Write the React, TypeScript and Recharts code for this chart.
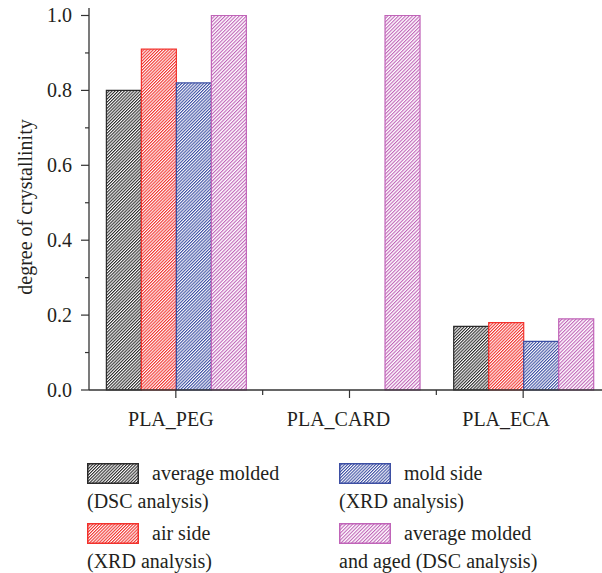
import React from 'react'
import { BarChart, Bar, XAxis, YAxis, Label } from 'recharts'

const categories = ['PLA_PEG', 'PLA_CARD', 'PLA_ECA']
const avgMolded = [0.8, null, 0.17]
const airSide = [0.91, null, 0.18]
const moldSide = [0.82, null, 0.13]
const avgAged = [1.0, 1.0, 0.19]
const yTicks = [0, 0.1, 0.2, 0.3, 0.4, 0.5, 0.6, 0.7, 0.8, 0.9, 1.0]

const series = [
  { key: 'avgMolded', values: avgMolded, color: '#2b2b2b', gap: 2.2, label: ['average molded', '(DSC analysis)'] },
  { key: 'airSide', values: airSide, color: '#f2322d', gap: 2.2, label: ['air side', '(XRD analysis)'] },
  { key: 'moldSide', values: moldSide, color: '#3d4fa3', gap: 2.2, label: ['mold side', '(XRD analysis)'] },
  { key: 'avgAged', values: avgAged, color: '#c064b8', gap: 2.5, label: ['average molded', 'and aged (DSC analysis)'] },
]

const data = categories.map((name, i) => {
  const row: Record<string, any> = { name }
  series.forEach(s => { row[s.key] = s.values[i] })
  return row
})

const FONT = '"Liberation Serif", "DejaVu Serif", serif'
const TEXT = '#231f20'
const AXIS = '#333'

const CHART_W = 620
const CHART_H = 573
const Y_AXIS_W = 89
const X_AXIS_H = 183
const MARGIN = { top: 8, right: 10, left: 0, bottom: 0 }
const AXIS_Y = CHART_H - X_AXIS_H
const BAND = (CHART_W - MARGIN.right - Y_AXIS_W) / categories.length

function Hatch({ id, color, gap }: { id: string; color: string; gap: number }) {
  return (
    <pattern id={id} patternUnits="userSpaceOnUse" width={gap} height="10" patternTransform="rotate(45)">
      <rect x="0" y="0" width={gap} height="10" fill="#fff" />
      <rect x="0" y="0" width="1.1" height="10" fill={color} />
    </pattern>
  )
}

function YTick(props: any) {
  const { y, payload, index } = props
  const major = index % 2 === 0
  return (
    <g>
      <line x1={Y_AXIS_W - (major ? 8 : 4)} x2={Y_AXIS_W} y1={y} y2={y} stroke={AXIS} strokeWidth={1.2} />
      {major && (
        <text x={Y_AXIS_W - 17} y={y} textAnchor="end" dominantBaseline="central"
          fontFamily={FONT} fontSize={20} fill={TEXT}>
          {Number(payload.value).toFixed(1)}
        </text>
      )}
    </g>
  )
}

function XTick(props: any) {
  const { x, payload, index } = props
  const half = BAND / 2
  return (
    <g>
      <line x1={x} x2={x} y1={AXIS_Y} y2={AXIS_Y + 8} stroke={AXIS} strokeWidth={1.2} />
      <line x1={x + half} x2={x + half} y1={AXIS_Y} y2={AXIS_Y + 5} stroke={AXIS} strokeWidth={1.2} />
      <text x={x - 5 - 6 * index} y={AXIS_Y + 29} textAnchor="middle" dominantBaseline="central"
        fontFamily={FONT} fontSize={20} fill={TEXT}>
        {payload.value}
      </text>
    </g>
  )
}

function Swatch({ color, gap, idx }: { color: string; gap: number; idx: number }) {
  return (
    <svg width={52} height={21} style={{ display: 'block' }}>
      <defs><Hatch id={`leg-hatch-${idx}`} color={color} gap={gap} /></defs>
      <rect x={0.75} y={0.75} width={50.5} height={19.5} fill={`url(#leg-hatch-${idx})`} stroke={color} strokeWidth={1.5} />
    </svg>
  )
}

// legend layout: two columns, each entry = swatch + first line, then second line below
const legendPos = [
  { left: 87, top: 463 },
  { left: 87, top: 523 },
  { left: 339, top: 463 },
  { left: 339, top: 523 },
]

export default function App() {
  return (
    <div style={{ position: 'absolute', left: 0, top: 0, width: 602, height: 573, overflow: 'hidden', background: '#fff' }}>
      <BarChart width={CHART_W} height={CHART_H} data={data} margin={MARGIN} barCategoryGap="10%" barGap={0}>
        <defs>
          {series.map((s, i) => <Hatch key={s.key} id={`hatch-${i}`} color={s.color} gap={s.gap} />)}
        </defs>
        <XAxis dataKey="name" height={X_AXIS_H} tickLine={false} axisLine={{ stroke: AXIS, strokeWidth: 1.3 }}
          tick={<XTick />} interval={0} />
        <YAxis width={Y_AXIS_W} domain={[0, 1.02]} ticks={yTicks} interval={0} tickLine={false}
          axisLine={{ stroke: AXIS, strokeWidth: 1.3 }} tick={<YTick />}>
          <Label content={() => (
            <text x={25} y={207} transform="rotate(-90, 25, 207)" textAnchor="middle" dominantBaseline="central"
              fontFamily={FONT} fontSize={20} fill={TEXT}>
              degree of crystallinity
            </text>
          )} />
        </YAxis>
        {series.map((s, i) => (
          <Bar key={s.key} dataKey={s.key} fill={`url(#hatch-${i})`} stroke={s.color} strokeWidth={1.2}
            isAnimationActive={false} />
        ))}
      </BarChart>
      {series.map((s, i) => {
        const p = legendPos[i]
        return (
          <div key={s.key} style={{ position: 'absolute', left: p.left, top: p.top, fontFamily: FONT, fontSize: 20, color: TEXT }}>
            <div style={{ display: 'flex', alignItems: 'center', height: 21 }}>
              <Swatch color={s.color} gap={s.gap} idx={i} />
              <span style={{ marginLeft: 13, lineHeight: '21px', whiteSpace: 'nowrap' }}>{s.label[0]}</span>
            </div>
            <div style={{ whiteSpace: 'nowrap', lineHeight: '30px', marginTop: 2 }}>{s.label[1]}</div>
          </div>
        )
      })}
    </div>
  )
}
